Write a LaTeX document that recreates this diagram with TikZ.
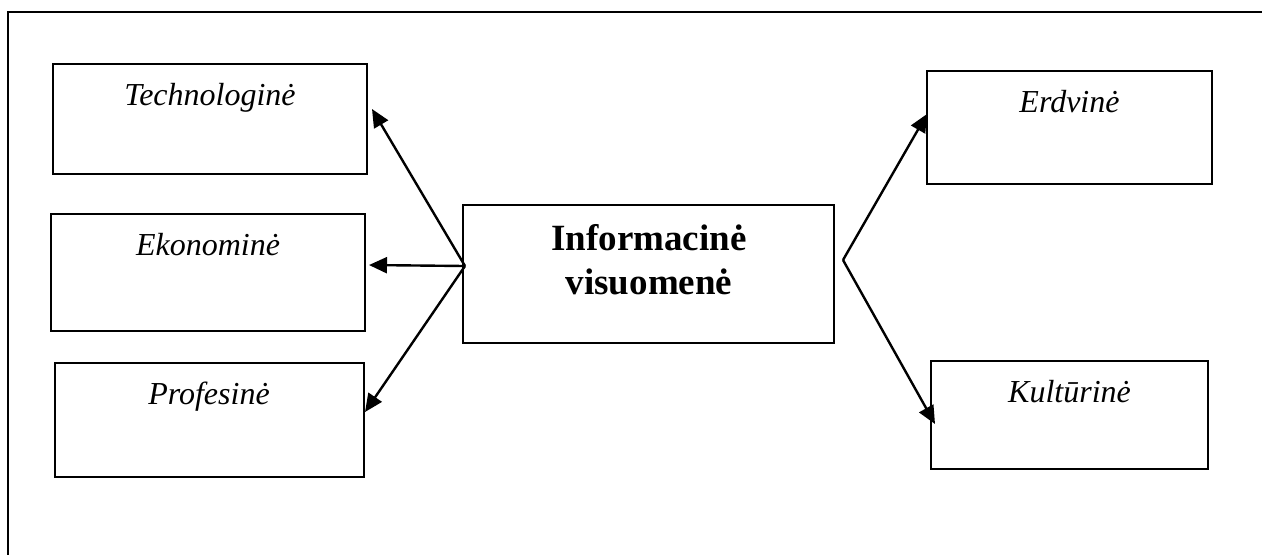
\documentclass[tikz,border=0pt]{standalone}
\usepackage{fontspec}
\setmainfont{Liberation Serif}
\usetikzlibrary{arrows.meta}
\tikzset{
  box/.style={draw=black, line width=1.2pt, rectangle, inner sep=0pt},
  lbl/.style={inner sep=0pt, anchor=base, font=\fontsize{16pt}{19pt}\selectfont\itshape},
  biglbl/.style={inner sep=0pt, anchor=base, font=\fontsize{18.5pt}{22pt}\selectfont\bfseries},
  arr/.style={line width=1.2pt, -{Triangle[length=9pt,width=8pt]}},
  frame/.style={line width=1.4pt}
}
\begin{document}
\begin{tikzpicture}[x=0.5pt,y=-0.5pt]
\clip (0,0) rectangle (1262,554);
\fill[white] (0,0) rectangle (1262,554);
% outer frame (continues beyond the picture)
\draw[frame] (8,600) -- (8,12) -- (1300,12);
% boxes
\node[box, minimum width=157pt, minimum height=55pt] (tech) at (210,119) {};
\node[box, minimum width=157pt, minimum height=58.5pt] (econ) at (208,272.5) {};
\node[box, minimum width=154.5pt, minimum height=57pt] (prof) at (209.5,420) {};
\node[box, minimum width=185.5pt, minimum height=69pt] (info) at (648.5,274) {};
\node[box, minimum width=142.5pt, minimum height=56.5pt] (erd) at (1069.5,127.5) {};
\node[box, minimum width=138.5pt, minimum height=54pt] (kult) at (1069.5,415) {};
% labels
\node[lbl] (techT) at (210,105) {Technologinė};
\node[lbl] (econT) at (208,255) {Ekonominė};
\node[lbl] (profT) at (209,404) {Profesinė};
\node[lbl] (erdT) at (1069.5,112) {Erdvinė};
\node[lbl] (kultT) at (1069.5,402) {Kultūrinė};
\node[biglbl] (infoT1) at (649,250) {Informacinė};
\node[biglbl] (infoT2) at (649,294) {visuomenė};
% connector points
\coordinate (L) at (465,266);
\coordinate (R) at (843,260);
\coordinate (techTip) at (372,109);
\coordinate (econTip) at (369,265);
\coordinate (profTip) at (365,412);
\coordinate (erdTip) at (927,114);
\coordinate (kultTip) at (935,424);
% arrows
\draw[arr] (L) -- (techTip);
\draw[arr] (L) -- (econTip);
\draw[arr] (L) -- (profTip);
\draw[arr] (R) -- (erdTip);
\draw[arr] (R) -- (kultTip);
\end{tikzpicture}
\end{document}
